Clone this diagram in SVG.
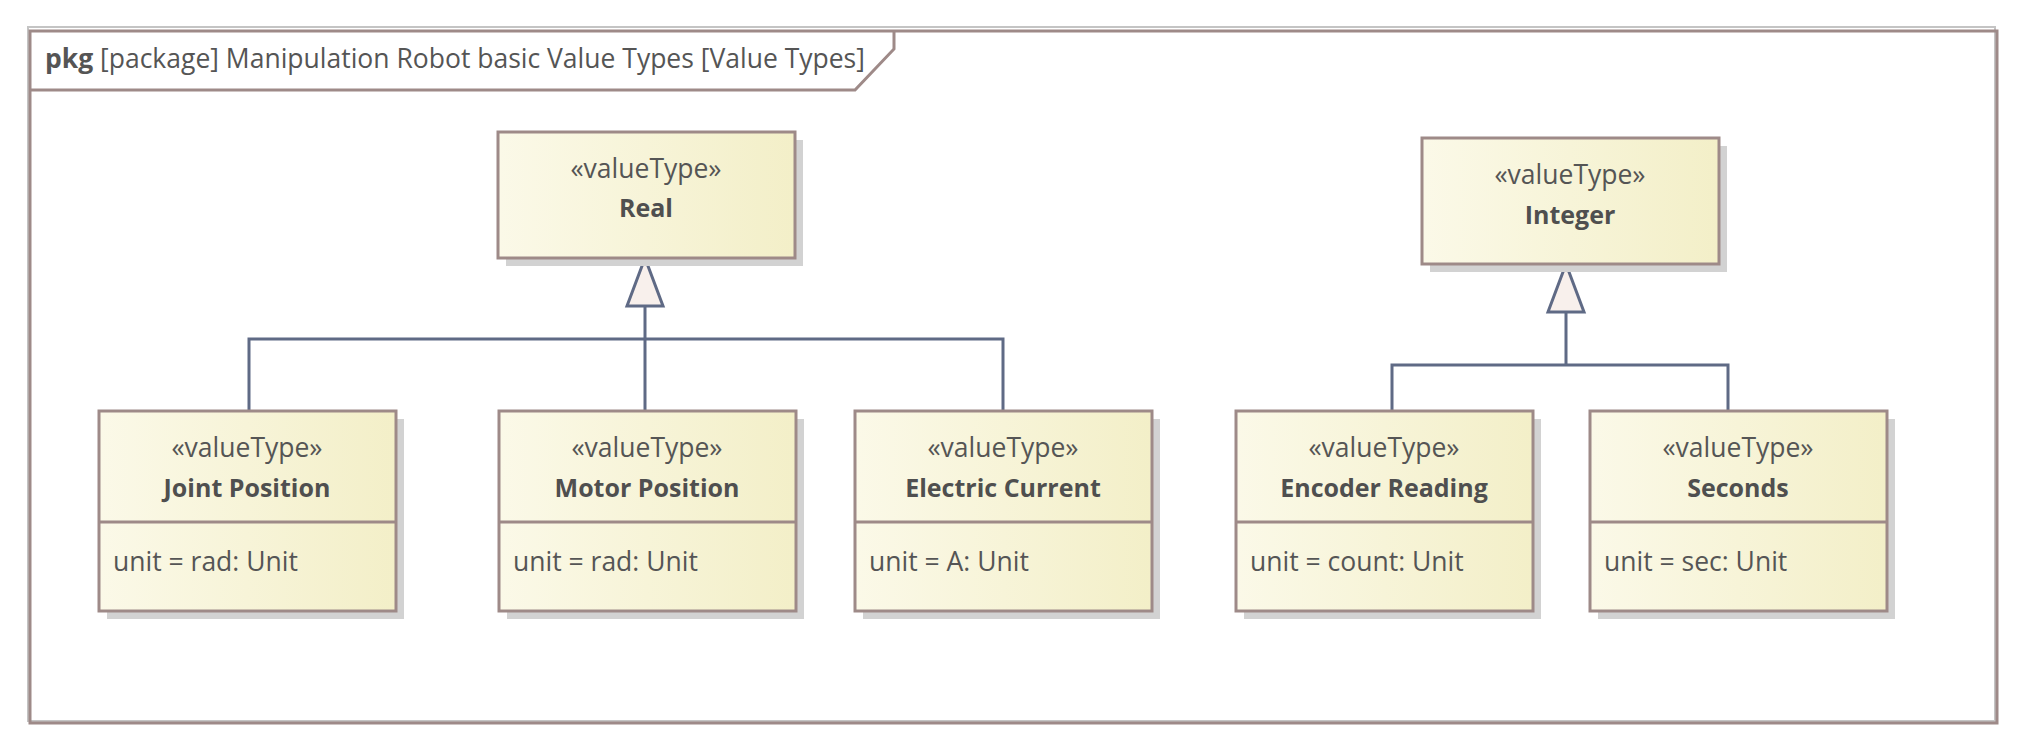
<svg xmlns="http://www.w3.org/2000/svg" width="2028" height="753" viewBox="0 0 2028 753">
<defs>
<linearGradient id="fill" x1="0" y1="0" x2="1" y2="0">
<stop offset="0" stop-color="#fbf9e8"/>
<stop offset="1" stop-color="#f3efc8"/>
</linearGradient>
</defs>
<style>
.frame{fill:none;stroke:#9e8a88;stroke-width:3}
.frameShadow{fill:none;stroke:#c4c4c4;stroke-width:2}
.box{fill:url(#fill);stroke:#9e8a88;stroke-width:3}
.shadow{fill:#d2d2d2}
.div{stroke:#9e8a88;stroke-width:3}
.conn{fill:none;stroke:#5f6a85;stroke-width:3}
.head{fill:#f8f0ec;stroke:#5f6a85;stroke-width:3;stroke-linejoin:miter}
text{font-family:"Open Sans","Noto Sans","Liberation Sans",sans-serif;fill:#555555;font-size:26.5px}
.st{text-anchor:middle}
.nm{text-anchor:middle;font-weight:bold;fill:#4f4f4f;font-size:25px}
</style>
<g id="frame">
<rect class="frameShadow" x="28" y="27" width="1967" height="694"/>
<rect class="frame" x="30" y="31" width="1967" height="692"/>
<path class="frame" d="M30,90 H855 L894,49 V31"/>
<text x="45" y="68"><tspan font-weight="bold">pkg</tspan> [package] Manipulation Robot basic Value Types [Value Types]</text>
</g>
<g id="connectors">
<path class="conn" d="M645,306 V339 M249,411 V339 H1003 V411 M645,339 V411"/>
<polygon class="head" points="645,258 627,306 663,306"/>
<path class="conn" d="M1566,312 V365 M1392,411 V365 H1728 V411"/>
<polygon class="head" points="1566,264 1548,312 1584,312"/>
</g>
<g id="real">
<rect class="shadow" x="506" y="140" width="297" height="126"/>
<rect class="box" x="498" y="132" width="297" height="126"/>
<text class="st" x="646" y="178">«valueType»</text>
<text class="nm" x="646" y="217">Real</text>
</g>
<g id="integer">
<rect class="shadow" x="1430" y="146" width="297" height="126"/>
<rect class="box" x="1422" y="138" width="297" height="126"/>
<text class="st" x="1570" y="184">«valueType»</text>
<text class="nm" x="1570" y="224">Integer</text>
</g>
<g id="joint-position">
<rect class="shadow" x="107" y="419" width="297" height="200"/>
<rect class="box" x="99" y="411" width="297" height="200"/>
<line class="div" x1="99" y1="522" x2="396" y2="522"/>
<text class="st" x="247" y="457">«valueType»</text>
<text class="nm" x="247" y="497">Joint Position</text>
<text x="113" y="571">unit = rad: Unit</text>
</g>
<g id="motor-position">
<rect class="shadow" x="507" y="419" width="297" height="200"/>
<rect class="box" x="499" y="411" width="297" height="200"/>
<line class="div" x1="499" y1="522" x2="796" y2="522"/>
<text class="st" x="647" y="457">«valueType»</text>
<text class="nm" x="647" y="497">Motor Position</text>
<text x="513" y="571">unit = rad: Unit</text>
</g>
<g id="electric-current">
<rect class="shadow" x="863" y="419" width="297" height="200"/>
<rect class="box" x="855" y="411" width="297" height="200"/>
<line class="div" x1="855" y1="522" x2="1152" y2="522"/>
<text class="st" x="1003" y="457">«valueType»</text>
<text class="nm" x="1003" y="497">Electric Current</text>
<text x="869" y="571">unit = A: Unit</text>
</g>
<g id="encoder-reading">
<rect class="shadow" x="1244" y="419" width="297" height="200"/>
<rect class="box" x="1236" y="411" width="297" height="200"/>
<line class="div" x1="1236" y1="522" x2="1533" y2="522"/>
<text class="st" x="1384" y="457">«valueType»</text>
<text class="nm" x="1384" y="497">Encoder Reading</text>
<text x="1250" y="571">unit = count: Unit</text>
</g>
<g id="seconds">
<rect class="shadow" x="1598" y="419" width="297" height="200"/>
<rect class="box" x="1590" y="411" width="297" height="200"/>
<line class="div" x1="1590" y1="522" x2="1887" y2="522"/>
<text class="st" x="1738" y="457">«valueType»</text>
<text class="nm" x="1738" y="497">Seconds</text>
<text x="1604" y="571">unit = sec: Unit</text>
</g>
</svg>
